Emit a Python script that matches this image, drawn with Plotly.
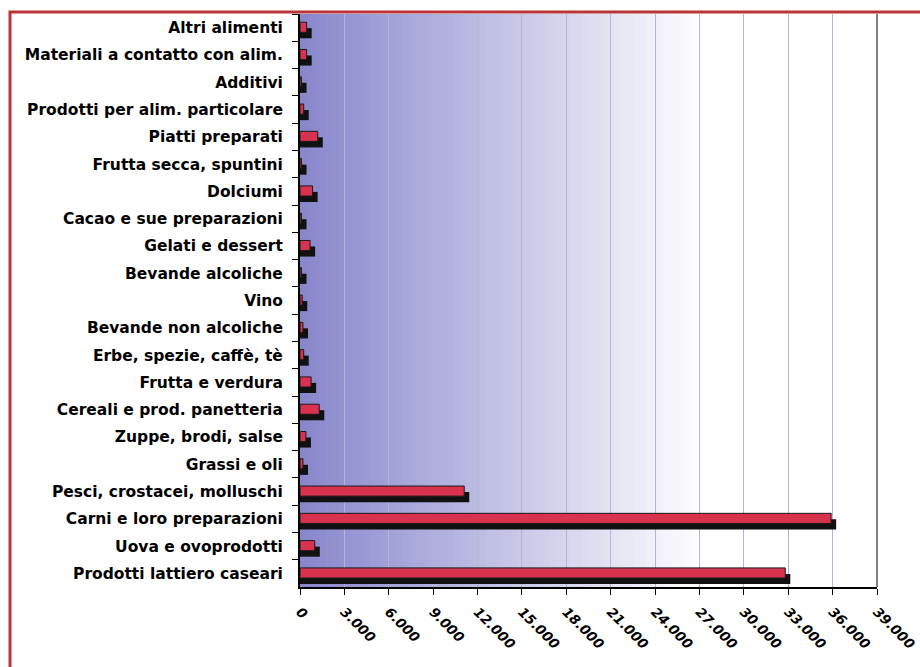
import plotly.graph_objects as go

# Food categories, listed from top to bottom of the chart
categories = [
    "Altri alimenti",
    "Materiali a contatto con alim.",
    "Additivi",
    "Prodotti per alim. particolare",
    "Piatti preparati",
    "Frutta secca, spuntini",
    "Dolciumi",
    "Cacao e sue preparazioni",
    "Gelati e dessert",
    "Bevande alcoliche",
    "Vino",
    "Bevande non alcoliche",
    "Erbe, spezie, caffè, tè",
    "Frutta e verdura",
    "Cereali e prod. panetteria",
    "Zuppe, brodi, salse",
    "Grassi e oli",
    "Pesci, crostacei, molluschi",
    "Carni e loro preparazioni",
    "Uova e ovoprodotti",
    "Prodotti lattiero caseari",
]

values = [
    450, 450, 100, 250, 1200, 100, 850, 100, 680, 100, 150,
    200, 250, 750, 1300, 400, 200, 11100, 35900, 1000, 32800,
]

tick_values = list(range(0, 39001, 3000))

# Shadow offset in data units (to the right of each bar)
SHADOW_DX = 340

fig = go.Figure()

# dark drop shadow behind each bar
fig.add_trace(go.Bar(
    y=categories,
    x=[v + SHADOW_DX for v in values],
    orientation="h",
    width=0.37,
    offset=0.02,
    marker=dict(color="#111111", line=dict(width=0)),
    hoverinfo="skip",
    showlegend=False,
))

# main red bars
fig.add_trace(go.Bar(
    y=categories,
    x=values,
    orientation="h",
    width=0.37,
    offset=-0.20,
    marker=dict(color="#d9324f", line=dict(color="#1a1a1a", width=1)),
    showlegend=False,
))

# horizontal purple-to-white gradient behind the plot area
shapes = []
N = 90
left = (136, 134, 204)
fade_end = 0.70
for i in range(N):
    t = (i + 0.5) / N
    k = min(t / fade_end, 1.0)
    r, g, b = (round(c + (255 - c) * k) for c in left)
    shapes.append(dict(
        type="rect", xref="x domain", yref="y domain",
        x0=i / N, x1=(i + 1) / N + 0.002, y0=0, y1=1,
        fillcolor=f"rgb({r},{g},{b})", line=dict(width=0), layer="below",
    ))

# pixel geometry of the figure
W, H = 920, 667
ML, MR, MT, MB = 300, 43, 14, 80
pw = W - ML - MR
ph = H - MT - MB


def px_x(x):
    return (x - ML) / pw


def px_y(y):
    return (H - MB - y) / ph


# dark right border of the plot area
shapes.append(dict(
    type="line", xref="x domain", yref="y domain",
    x0=1, x1=1, y0=0, y1=1, line=dict(color="#555555", width=1.5),
    layer="above",
))

# red outer frame of the chart
shapes.append(dict(
    type="rect", xref="paper", yref="paper",
    x0=px_x(10), x1=px_x(940), y0=px_y(690), y1=px_y(12),
    line=dict(color="#bb3336", width=3), fillcolor="rgba(0,0,0,0)",
    layer="above",
))

fig.update_layout(
    width=W, height=H,
    margin=dict(l=ML, r=MR, t=MT, b=MB),
    paper_bgcolor="white",
    plot_bgcolor="white",
    barmode="overlay",
    separators=",.",
    shapes=shapes,
    font=dict(family="DejaVu Sans, sans-serif", color="black"),
)

fig.update_xaxes(
    range=[0, 39000],
    tickvals=tick_values,
    tickformat=",d",
    tickangle=45,
    tickfont=dict(family="DejaVu Sans", size=13.5, weight="bold",
                  style="italic", color="black"),
    ticklabeloverflow="allow",
    automargin=False,
    showgrid=True,
    gridcolor="#b6b4d4",
    gridwidth=1,
    showline=True,
    linecolor="black",
    linewidth=1.5,
    ticks="outside",
    ticklen=6,
    tickcolor="black",
    ticklabelstandoff=4,
    zeroline=False,
    fixedrange=True,
)

fig.update_yaxes(
    autorange="reversed",
    type="category",
    tickfont=dict(family="DejaVu Sans", size=15.5, weight="bold",
                  color="black"),
    automargin=False,
    showgrid=False,
    showline=True,
    linecolor="black",
    linewidth=2,
    ticks="outside",
    tickson="boundaries",
    ticklen=6,
    tickcolor="black",
    ticklabelstandoff=12,
    zeroline=False,
    fixedrange=True,
)

fig.write_html("out.html")
